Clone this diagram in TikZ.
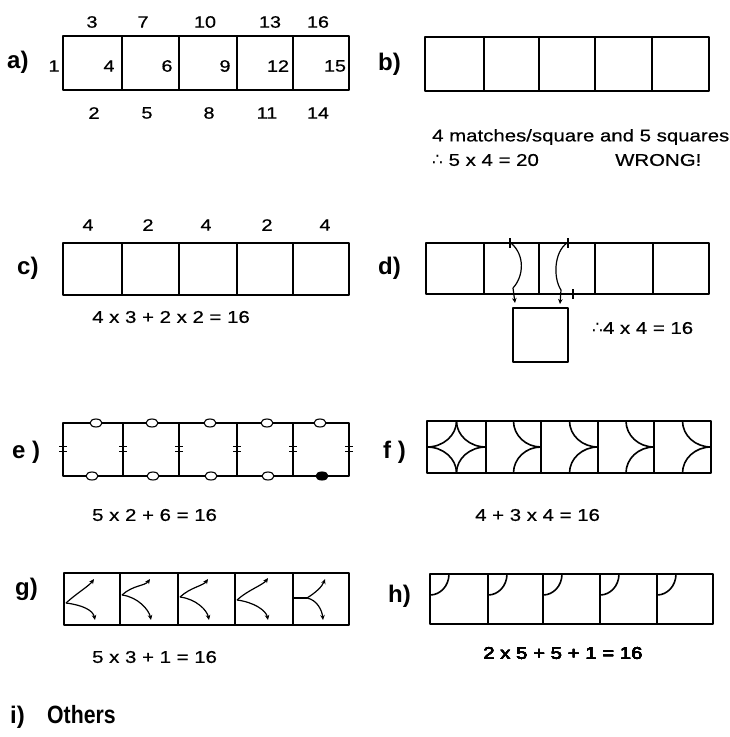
\documentclass[tikz,border=0pt]{standalone}
\usepackage{fontspec}
\setmainfont{Liberation Sans}
\newfontfamily\widefont[FakeStretch=1.2,FakeBold=0.6]{Liberation Sans}
\newfontfamily\tallbold[FakeStretch=0.85]{Liberation Sans Bold}
\newfontfamily\symfont{DejaVu Sans}
\usetikzlibrary{arrows.meta}
\newcommand\sqrow[3]{\foreach \xa/\xb in {#1} \draw[box] (\xa,#2) rectangle (\xb,#3);}
\newcommand\carc[6]{\draw[box] ({#1+#3*#5},#2) .. controls ({#1+#3*#5},{#2+#4*0.5523*#6}) and ({#1+#3*0.5523*#5},{#2+#4*#6}) .. (#1,{#2+#4*#6});}
\newcommand\garrows[3]{%
  \draw[marrow] (#1) .. controls +(11,-10) and +(-5,7) .. (#2);
  \draw[marrow] (#1) .. controls +(16,2) and +(-2,-10) .. (#3);}
\tikzset{
  box/.style={line width=1.6pt, line join=round},
  marrow/.style={line width=1.2pt, -{Stealth[length=5pt,width=4.5pt]}},
  eq/.style={font=\widefont\fontsize{17}{20}\selectfont, anchor=west, inner sep=0pt},
  num/.style={font=\widefont\fontsize{16.5}{19}\selectfont, inner sep=0pt},
  lab/.style={font=\bfseries\fontsize{24}{28}\selectfont, anchor=base west, inner sep=0pt},
  head/.style={line width=1.1pt, fill=white},
}
\begin{document}
\begin{tikzpicture}[x=1pt,y=-1pt]
\useasboundingbox[fill=white] (0,0) rectangle (729,737);
% ---------- a)
\node[lab] (la) at (7,68) {a)};
\sqrow{63/122,122/179,179/237,237/293,293/349}{36}{90}
\foreach \t/\x in {3/92,7/143,10/205,13/270,16/318} \node[num] (at\t) at (\x,22) {\t};
\foreach \t/\x in {2/94,5/147,8/209,11/267,14/318} \node[num] (ab\t) at (\x,113) {\t};
\foreach \t/\x in {1/54,4/109,6/167,9/225,12/278,15/335} \node[num] (ai\t) at (\x,66) {\t};
% ---------- b)
\node[lab] (lb) at (378,70) {b)};
\sqrow{425/484,484/539,539/595,595/652,652/709}{37}{91}
\node[eq] (bt1) at (432,137) {4 matches/square and 5 squares};
\node[eq] (bt2) at (432,160) {{\symfont ∴} 5 x 4 = 20};
\node[eq] (bt3) at (615,160) {WRONG!};
% ---------- c)
\node[lab] (lc) at (17,274) {c)};
\sqrow{63/122,122/179,179/237,237/293,293/349}{243}{295}
\foreach \t/\x [count=\i] in {4/88,2/148,4/206,2/267,4/325} \node[num] (ct\i) at (\x,225) {\t};
\node[eq] (ceq) at (92,317) {4 x 3 + 2 x 2 = 16};
% ---------- d)
\node[lab] (ld) at (378,274) {d)};
\sqrow{426/484,484/539,539/595,595/653,653/709}{243}{294}
\draw[box] (513,308) rectangle (568,362);
\draw[line width=1.1pt] (510,238) -- (510,248);
\draw[line width=1.1pt] (568,238) -- (568,248);
\draw[line width=1.1pt] (573,289) -- (573,299);
\coordinate (dl1) at (511,243);
\coordinate (dl2) at (513,288);
\coordinate (dl3) at (515,303);
\coordinate (dr1) at (567,243);
\coordinate (dr2) at (561,290);
\coordinate (dr3) at (560,304);
\draw[line width=1.2pt] (dl1) .. controls (525,255) and (524,276) .. (dl2);
\draw[marrow] (dl2) -- (dl3);
\draw[line width=1.2pt] (dr1) .. controls (554,252) and (553,278) .. (dr2);
\draw[marrow] (dr2) -- (dr3);
\node[eq] (deq) at (592,328) {{\symfont ∴}4 x 4 = 16};
% ---------- e)
\node[lab] (le) at (12,458) {e )};
\sqrow{63/123,123/179,179/237,237/293,293/349}{423}{476}
\foreach \x in {63,123,179,237,293,349} {
  \draw[line width=1.1pt] (\x-4,446.5) -- (\x+4,446.5);
  \draw[line width=1.1pt] (\x-4,451.5) -- (\x+4,451.5);}
\foreach \x in {96,152,210,267,320} \draw[head] (\x,423) ellipse [x radius=6pt, y radius=4pt];
\foreach \x in {92,153,211,268} \draw[head] (\x,476) ellipse [x radius=6pt, y radius=4pt];
\draw[head, fill=black] (322,476) ellipse [x radius=6pt, y radius=4pt];
\node[eq] (eeq) at (92,515) {5 x 2 + 6 = 16};
% ---------- f)
\node[lab] (lf) at (383,458) {f )};
\sqrow{427/486,486/541,541/598,598/654,654/711}{421}{473}
\carc{427}{421}{1}{1}{29.5}{26}
\carc{486}{421}{-1}{1}{29.5}{26}
\carc{427}{473}{1}{-1}{29.5}{26}
\carc{486}{473}{-1}{-1}{29.5}{26}
\foreach \xr/\r in {541/27.5,598/28.5,654/28,711/28.5} {
  \carc{\xr}{421}{-1}{1}{\r}{26}
  \carc{\xr}{473}{-1}{-1}{\r}{26}}
\node[eq] (feq) at (475,515) {4 + 3 x 4 = 16};
% ---------- g)
\node[lab] (lg) at (15,595) {g)};
\sqrow{64/120,120/178,178/235,235/293,293/349}{573}{625}
\coordinate (gj1) at (66,603);  \coordinate (gu1) at (94,579);  \coordinate (gl1) at (95,620);
\coordinate (gj2) at (122,595); \coordinate (gu2) at (150,579); \coordinate (gl2) at (151,620);
\coordinate (gj3) at (180,597); \coordinate (gu3) at (208,579); \coordinate (gl3) at (209,620);
\coordinate (gj4) at (237,600); \coordinate (gu4) at (268,578); \coordinate (gl4) at (268,620);
\coordinate (gs5) at (293,598); \coordinate (gj5) at (307,598); \coordinate (gu5) at (325,579); \coordinate (gl5) at (323,620);
\garrows{gj1}{gu1}{gl1}
\garrows{gj2}{gu2}{gl2}
\garrows{gj3}{gu3}{gl3}
\garrows{gj4}{gu4}{gl4}
\draw[line width=1.2pt] (gs5) -- (gj5);
\draw[marrow] (gj5) .. controls +(8,-5) and +(-3,8) .. (gu5);
\draw[marrow] (gj5) .. controls +(10,2) and +(-1,-10) .. (gl5);
\node[eq] (geq) at (92,657) {5 x 3 + 1 = 16};
% ---------- h)
\node[lab] (lh) at (388,602) {h)};
\sqrow{430/488,488/543,543/600,600/657,657/713}{574}{624}
\foreach \x in {430,488,543,600,657} \carc{\x}{574}{1}{1}{19}{21}
\node[eq] (heq) at (483,653) {2 x 5 + 5 + 1 = 16};
% ---------- i)
\node[lab] (li) at (10,723) {i)};
\node[lab, font=\tallbold\fontsize{25}{29}\selectfont] (lothers) at (47,723) {Others};
\end{tikzpicture}
\end{document}
